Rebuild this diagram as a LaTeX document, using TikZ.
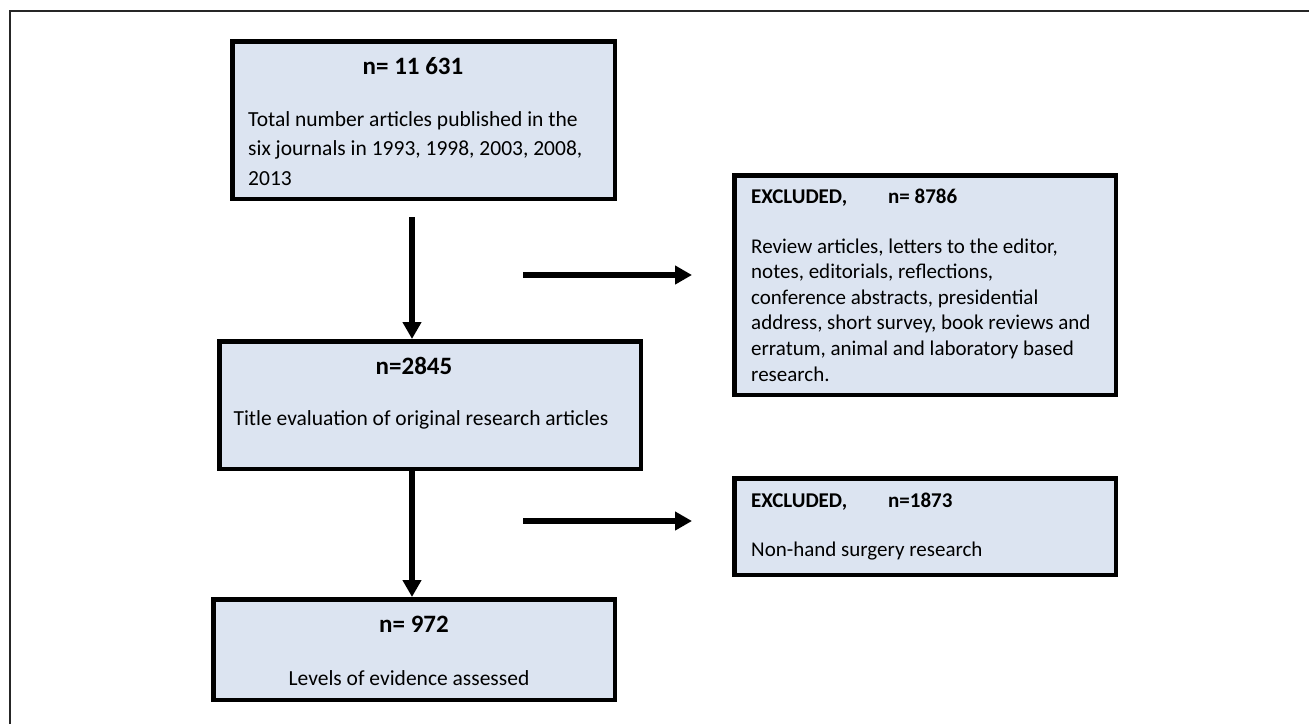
\documentclass[tikz,border=0pt]{standalone}
\usepackage{fontspec}
\setmainfont{Carlito}
\usetikzlibrary{arrows.meta,calc}
\definecolor{boxfill}{RGB}{220,228,241}
\tikzset{
	box/.style={draw=black, fill=boxfill, line width=4.5pt, anchor=north west, inner sep=0pt},
	head/.style={font=\fontsize{25}{30}\selectfont\bfseries, inner sep=0pt, anchor=base},
	exhead/.style={font=\fontsize{21}{26}\selectfont\bfseries, inner sep=0pt, anchor=base west},
	body/.style={font=\fontsize{21.5}{29.5}\selectfont, inner sep=0pt, align=left, anchor=base west},
	exbody/.style={font=\fontsize{21}{25.6}\selectfont, inner sep=0pt, align=left, anchor=base west},
	arr/.style={line width=5.5pt, -{Triangle[width=18pt,length=17pt]}},
}

\begin{document}
\begin{tikzpicture}[x=1pt,y=-1pt]
		%%%%% START %%%%%
		\useasboundingbox (0,0) rectangle (1309,724);
		
		% frame
		\draw[line width=1.2pt, black!85] (10,724) -- (10,11) -- (1309,11);
		
		% boxes
		\node[box, minimum width=382.5pt, minimum height=157.5pt] (total) at (230,39) {};
		\node[box, minimum width=421.5pt, minimum height=127.5pt] (title) at (217,339) {};
		\node[box, minimum width=401.5pt, minimum height=100.5pt] (levels) at (211,597) {};
		\node[box, minimum width=381.5pt, minimum height=219.5pt] (excl1) at (732,173) {};
		\node[box, minimum width=381.5pt, minimum height=96.5pt] (excl2) at (732,476) {};
		
		% texts (multi-line ones sit on their last baseline)
		\node[head] (total-n) at (413,74) {n= 11 631};
		\node[body] (total-txt) at (248,185) {Total number articles published in the\\six journals in 1993, 1998, 2003, 2008,\\2013};
		
		\node[head] (title-n) at (414,374) {n=2845};
		\node[body, anchor=base] (title-txt) at (421,425) {Title evaluation of original research articles};
		
		\node[head] (levels-n) at (414,632) {n= 972};
		\node[body, anchor=base] (levels-txt) at (409,685) {Levels of evidence assessed};
		
		\node[exhead] (excl1-n) at (751,203) {\makebox[137pt][l]{EXCLUDED,}n= 8786};
		\node[exbody] (excl1-txt) at (751,381) {Review articles, letters to the editor,\\notes, editorials, reflections,\\conference abstracts, presidential\\address, short survey, book reviews and\\erratum, animal and laboratory based\\research.};
		
		\node[exhead] (excl2-n) at (751,507) {\makebox[137pt][l]{EXCLUDED,}n=1873};
		\node[exbody] (excl2-txt) at (751,556) {Non-hand surgery research};
		
		% arrows
		\coordinate (down) at (412,217);
		\draw[arr] (down) -- (down |- title.north);
		\draw[arr] (down |- title.south) -- (down |- levels.north);
		
		\coordinate (out1) at (523,275);
		\coordinate (out2) at (523,521);
		\draw[arr] (out1) -- ++(169,0);
		\draw[arr] (out2) -- ++(169,0);
		
		%%%%% END %%%%%
	\end{tikzpicture}
\end{document}
